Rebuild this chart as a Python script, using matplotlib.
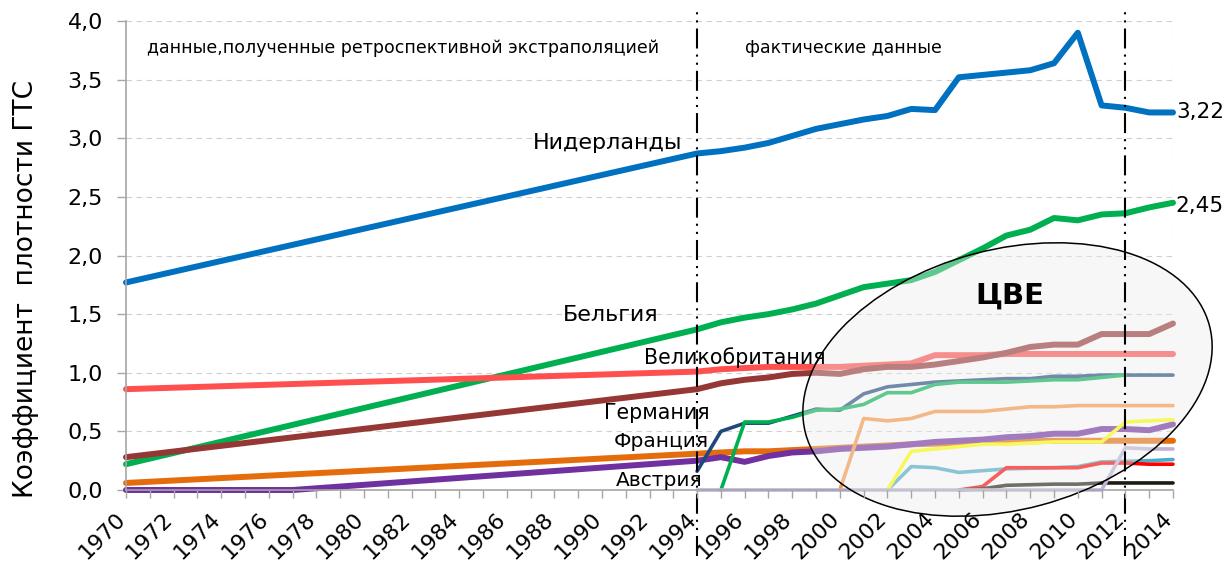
import matplotlib
matplotlib.use("Agg")
import matplotlib.pyplot as plt
import matplotlib.patches as mpatches
import matplotlib.transforms as mtransforms

W, H, DPI = 1226, 562, 100

# Values.
# 1970-1994: retrospective extrapolation (straight lines), 1994-2014: actual data
YEARS_FACT = [1994, 1995, 1996, 1997, 1998, 1999, 2000, 2001, 2002, 2003, 2004,
              2005, 2006, 2007, 2008, 2009, 2010, 2011, 2012, 2013, 2014]

nl_years = [1970] + YEARS_FACT
nl_vals = [1.77, 2.87, 2.89, 2.92, 2.96, 3.02, 3.08, 3.12, 3.16, 3.19, 3.25, 3.24,
           3.52, 3.54, 3.56, 3.58, 3.64, 3.90, 3.28, 3.26, 3.22, 3.22]

be_years = [1970] + YEARS_FACT
be_vals = [0.22, 1.37, 1.43, 1.47, 1.50, 1.54, 1.59, 1.66, 1.73, 1.76, 1.79, 1.86,
           1.96, 2.06, 2.17, 2.22, 2.32, 2.30, 2.35, 2.36, 2.41, 2.45]

uk_years = [1970] + YEARS_FACT
uk_vals = [0.86, 1.01, 1.03, 1.04, 1.05, 1.05, 1.05, 1.05, 1.06, 1.07, 1.08, 1.15,
           1.15, 1.15, 1.16, 1.16, 1.16, 1.16, 1.16, 1.16, 1.16, 1.16]

de_years = [1970] + YEARS_FACT
de_vals = [0.28, 0.86, 0.91, 0.94, 0.96, 0.99, 1.00, 0.99, 1.03, 1.05, 1.05, 1.07,
           1.10, 1.13, 1.17, 1.22, 1.24, 1.24, 1.33, 1.33, 1.33, 1.42]

fr_years = [1970] + YEARS_FACT
fr_vals = [0.06, 0.31, 0.32, 0.33, 0.33, 0.34, 0.35, 0.36, 0.37, 0.38, 0.39, 0.395,
           0.40, 0.41, 0.41, 0.415, 0.42, 0.42, 0.42, 0.42, 0.42, 0.42]

at_years = [1970, 1977] + YEARS_FACT
at_vals = [0.0, 0.0, 0.25, 0.28, 0.24, 0.29, 0.32, 0.33, 0.35, 0.36, 0.37, 0.39, 0.41,
           0.42, 0.43, 0.45, 0.46, 0.48, 0.48, 0.52, 0.52, 0.51, 0.56]

# Central-Eastern Europe countries (unlabelled lines)
navy_years = YEARS_FACT
navy_vals = [0.16, 0.50, 0.57, 0.57, 0.63, 0.69, 0.68, 0.82, 0.88, 0.90, 0.92,
             0.93, 0.94, 0.95, 0.95, 0.97, 0.97, 0.98, 0.98, 0.98, 0.98]

green_years = [1995, 1996, 1997, 1998, 1999, 2000, 2001, 2002, 2003, 2004, 2005,
               2006, 2007, 2008, 2009, 2010, 2011, 2012]
green_vals = [0.0, 0.58, 0.58, 0.62, 0.68, 0.69, 0.73, 0.83, 0.83, 0.90, 0.92,
              0.92, 0.92, 0.93, 0.94, 0.94, 0.96, 0.98]

lorange_years = [2000, 2001, 2002, 2003, 2004, 2005, 2006, 2007, 2008, 2009, 2010,
                 2011, 2012, 2013, 2014]
lorange_vals = [0.0, 0.61, 0.59, 0.61, 0.67, 0.67, 0.67, 0.69, 0.71, 0.71, 0.72,
                0.72, 0.72, 0.72, 0.72]

yellow_years = [2002, 2003, 2004, 2005, 2006, 2007, 2008, 2009, 2010, 2011, 2012,
                2013, 2014]
yellow_vals = [0.0, 0.33, 0.35, 0.37, 0.39, 0.39, 0.40, 0.41, 0.41, 0.41, 0.58,
               0.59, 0.60]

lblue_years = [2002, 2003, 2004, 2005, 2006, 2007, 2008, 2009, 2010, 2011, 2012,
               2013, 2014]
lblue_vals = [0.0, 0.20, 0.19, 0.15, 0.165, 0.18, 0.185, 0.19, 0.20, 0.24, 0.245,
              0.25, 0.26]

red_years = [2005, 2006, 2007, 2008, 2009, 2010, 2011, 2012, 2013, 2014]
red_vals = [0.0, 0.03, 0.19, 0.19, 0.19, 0.19, 0.23, 0.23, 0.22, 0.22]

dark_years = [2005, 2006, 2007, 2008, 2009, 2010, 2011, 2012, 2013, 2014]
dark_vals = [0.0, 0.01, 0.04, 0.045, 0.05, 0.05, 0.06, 0.06, 0.06, 0.06]

lav_years = YEARS_FACT
lav_vals = [0.0, 0.0, 0.0, 0.0, 0.0, 0.0, 0.0, 0.0, 0.0, 0.0, 0.0,
            0.0, 0.0, 0.0, 0.0, 0.0, 0.0, 0.0, 0.36, 0.35, 0.35]

Y_TICKS = [0.0, 0.5, 1.0, 1.5, 2.0, 2.5, 3.0, 3.5, 4.0]
Y_TICK_LABELS = ["0,0", "0,5", "1,0", "1,5", "2,0", "2,5", "3,0", "3,5", "4,0"]
X_YEARS = list(range(1970, 2015))

series = [
    (nl_years, nl_vals, "#0070C0", 4.3),
    (be_years, be_vals, "#00B050", 4.3),
    (uk_years, uk_vals, "#FF5050", 4.3),
    (de_years, de_vals, "#953735", 4.3),
    (fr_years, fr_vals, "#E46C0A", 4.3),
    (at_years, at_vals, "#7030A0", 4.3),
    (navy_years, navy_vals, "#1F497D", 2.6),
    (green_years, green_vals, "#00B050", 2.6),
    (lorange_years, lorange_vals, "#F79646", 2.6),
    (lblue_years, lblue_vals, "#4BACC6", 2.6),
    (red_years, red_vals, "#FF0000", 2.6),
    (dark_years, dark_vals, "#1D1B10", 2.6),
    (yellow_years, yellow_vals, "#FFFF00", 2.6),
    (lav_years, lav_vals, "#BFB2D6", 2.6),
]

fig = plt.figure(figsize=(W / DPI, H / DPI), dpi=DPI)
ax = fig.add_axes([126 / W, 72 / H, 1047 / W, 469 / H])

for i, (xs, ys, color, lw) in enumerate(series):
    ax.plot(xs, ys, color=color, lw=lw, solid_capstyle="round",
            solid_joinstyle="round", clip_on=False, zorder=2 + i * 0.01)

ax.set_xlim(1970, 2014)
ax.set_ylim(0, 4)

# grid + frame
grid_kw = dict(color="#D0D0D0", lw=0.8, ls=(0, (5, 4)), zorder=1)
for v in Y_TICKS[1:]:
    ax.axhline(v, **grid_kw)
ax.axvline(2014, **grid_kw)
for side in ("top", "right"):
    ax.spines[side].set_visible(False)
for side in ("left", "bottom"):
    ax.spines[side].set_color("#A6A6A6")
    ax.spines[side].set_linewidth(1.2)

ax.set_yticks(Y_TICKS)
ax.set_yticklabels(Y_TICK_LABELS)
ax.tick_params(axis="y", length=6.5, width=1, color="#A6A6A6",
               labelsize=16, pad=10)

ax.set_xticks(X_YEARS)
ax.set_xticklabels([str(y) if y % 2 == 0 else "" for y in X_YEARS])
ax.tick_params(axis="x", length=5.5, width=1, color="#A6A6A6",
               labelsize=16, pad=13)
shift = mtransforms.ScaledTranslation(-4 / DPI, 0, fig.dpi_scale_trans)
for lbl in ax.get_xticklabels():
    lbl.set_rotation(45)
    lbl.set_ha("right")
    lbl.set_va("center")
    lbl.set_rotation_mode("anchor")
    lbl.set_transform(lbl.get_transform() + shift)
ax.xaxis.set_zorder(6)

# CEE ellipse, semi-transparent, drawn in figure inches
ell = mpatches.Ellipse((10.075, 1.825), 4.18, 2.60, angle=15,
                       transform=fig.dpi_scale_trans,
                       facecolor=(0.93, 0.93, 0.93, 0.4),
                       edgecolor="black", lw=1.1, zorder=4, clip_on=False)
ax.add_patch(ell)

# period separators
sep_ls = (0, (9.6, 2.9, 1.0, 2.9, 1.0, 2.9))
for yr in (1994, 2012):
    ax.plot([yr, yr], [-0.56, 4.12], color="black", lw=1.5, ls=sep_ls,
            clip_on=False, zorder=5)

txt_kw = dict(zorder=7, color="black", ha="center", va="center")
ax.text(1970.9, 3.77, "данные,полученные ретроспективной экстраполяцией",
        fontsize=12.5, zorder=7, ha="left", va="center")
ax.text(1996.0, 3.77, "фактические данные", fontsize=12.5, zorder=7,
        ha="left", va="center")
ax.text(1990.25, 2.96, "Нидерланды", fontsize=16, **txt_kw)
ax.text(1990.35, 1.49, "Бельгия", fontsize=16, **txt_kw)
ax.text(1995.6, 1.13, "Великобритания", fontsize=14.8, **txt_kw)
ax.text(1992.3, 0.66, "Германия", fontsize=14.8, **txt_kw)
ax.text(1992.5, 0.41, "Франция", fontsize=14.5, **txt_kw)
ax.text(1992.4, 0.08, "Австрия", fontsize=14.5, **txt_kw)
ax.text(2014.12, nl_vals[-1], "3,22", fontsize=15.5, zorder=7, ha="left", va="center")
ax.text(2014.12, 2.42, "2,45", fontsize=15.5, zorder=7, ha="left", va="center")
ax.text(2007.15, 1.66, "ЦВЕ", fontsize=21, fontweight="bold", **txt_kw)

fig.text(26 / W, 1 - 289 / H, "Коэффициент  плотности ГТС", rotation=90,
         fontsize=19, ha="center", va="center")

fig.savefig("out.png", dpi=DPI)
